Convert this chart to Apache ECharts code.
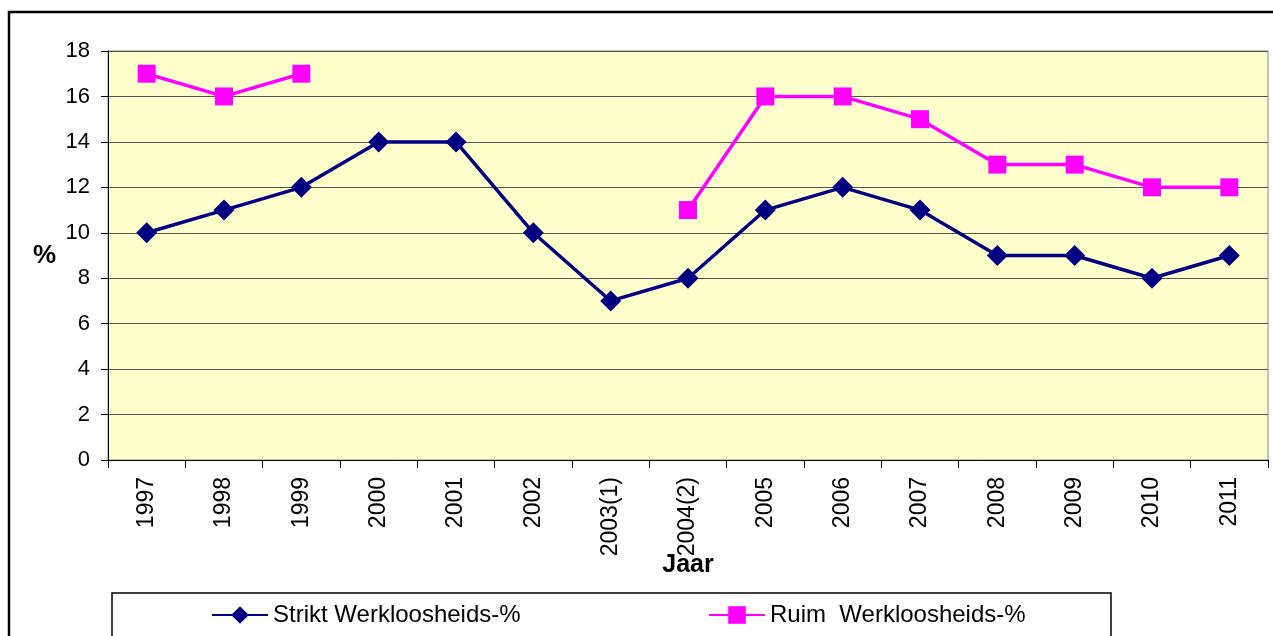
<!DOCTYPE html>
<html>
<head>
<meta charset="utf-8">
<script src="https://cdn.jsdelivr.net/npm/echarts@6/dist/echarts.min.js"></script>
<style>
  html, body { margin: 0; padding: 0; background: #fff; }
  #chart { width: 1273px; height: 636px; }
</style>
</head>
<body>
<div id="chart"></div>
<script>
const years = ['1997', '1998', '1999', '2000', '2001', '2002', '2003(1)', '2004(2)',
  '2005', '2006', '2007', '2008', '2009', '2010', '2011']
const strikt = [10, 11, 12, 14, 14, 10, 7, 8, 11, 12, 11, 9, 9, 8, 9]
const ruim = [17, 16, 17, null, null, null, null, 11, 16, 16, 15, 13, 13, 12, 12]

const font = 'Liberation Sans, Arial, sans-serif'
const chart = echarts.init(document.getElementById('chart'))

chart.setOption({
  animation: false,
  textStyle: { fontFamily: font },
  grid: {
    left: 108, right: 5, top: 51, bottom: 176,
    show: true, backgroundColor: '#FFFFCC', borderColor: '#888', borderWidth: 1
  },
  graphic: [
    {
      type: 'rect', shape: { x: 9, y: 12, width: 1300, height: 700 },
      style: { fill: 'none', stroke: '#000', lineWidth: 2.5 }, z: -1
    },
    {
      type: 'rect', shape: { x: 112, y: 593, width: 999, height: 80 },
      style: { fill: '#fff', stroke: '#000', lineWidth: 1.5 }, z: -1
    }
  ],
  legend: [
    {
      data: ['Strikt Werkloosheids-%'], left: 206, top: 598,
      itemWidth: 56, itemHeight: 22, itemGap: 4,
      textStyle: { fontSize: 24, color: '#000', fontFamily: font }
    },
    {
      data: ['Ruim  Werkloosheids-%'], left: 703, top: 598,
      itemWidth: 56, itemHeight: 22,
      textStyle: { fontSize: 24, color: '#000', fontFamily: font }
    }
  ],
  xAxis: {
    type: 'category',
    data: years,
    boundaryGap: true,
    name: 'Jaar',
    nameLocation: 'middle',
    nameGap: 93,
    nameMoveOverlap: false,
    nameTextStyle: { fontSize: 25, fontWeight: 'bold', color: '#000' },
    axisLine: { lineStyle: { color: '#000', width: 1 } },
    axisTick: { show: true, interval: 0, length: 8, lineStyle: { color: '#000' } },
    axisLabel: { rotate: 90, fontSize: 23, color: '#000', margin: 17, interval: 0 }
  },
  yAxis: {
    type: 'value',
    min: 0, max: 18, interval: 2,
    name: '%',
    nameLocation: 'middle',
    nameRotate: 0,
    nameGap: 52,
    nameMoveOverlap: false,
    nameTextStyle: { fontSize: 26, fontWeight: 'bold', color: '#000' },
    axisLine: { show: true, lineStyle: { color: '#000', width: 1 } },
    axisTick: { show: true, length: 7, lineStyle: { color: '#000' } },
    axisLabel: { fontSize: 22, color: '#000', margin: 18 },
    splitLine: { show: true, lineStyle: { color: '#555', width: 1 } }
  },
  series: [
    {
      name: 'Strikt Werkloosheids-%',
      type: 'line',
      data: strikt,
      symbol: 'diamond',
      symbolSize: 21,
      lineStyle: { color: '#000080', width: 3.5 },
      itemStyle: { color: '#000080' }
    },
    {
      name: 'Ruim  Werkloosheids-%',
      type: 'line',
      data: ruim,
      connectNulls: false,
      symbol: 'rect',
      symbolSize: 18,
      lineStyle: { color: '#FF00FF', width: 3.5 },
      itemStyle: { color: '#FF00FF' }
    }
  ]
})
</script>
</body>
</html>
